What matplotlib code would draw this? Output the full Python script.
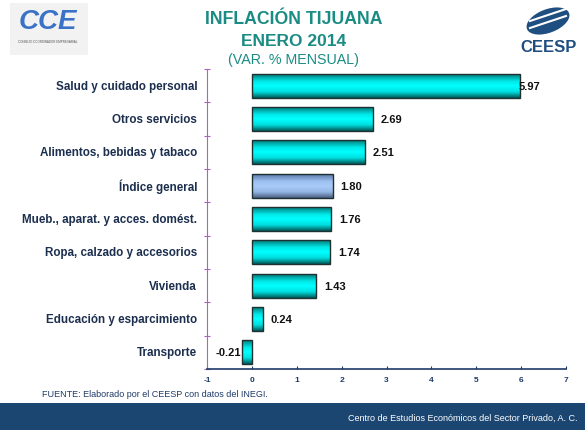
import matplotlib
matplotlib.use("Agg")
import numpy as np
import matplotlib.pyplot as plt
from matplotlib.patches import Rectangle, Ellipse
from matplotlib.colors import LinearSegmentedColormap

categories = ["Salud y cuidado personal", "Otros servicios", "Alimentos, bebidas y tabaco",
              "Índice general", "Mueb., aparat. y acces. domést.", "Ropa, calzado y accesorios",
              "Vivienda", "Educación y esparcimiento", "Transporte"]
values = [5.97, 2.69, 2.51, 1.80, 1.76, 1.74, 1.43, 0.24, -0.21]
value_labels = ["5.97", "2.69", "2.51", "1.80", "1.76", "1.74", "1.43", "0.24", "-0.21"]
xticks = [-1, 0, 1, 2, 3, 4, 5, 6, 7]

plt.rcParams['font.family'] = ['Liberation Sans', 'DejaVu Sans']

fig = plt.figure(figsize=(5.85, 4.31), dpi=100)
ax = fig.add_axes([207/585, 1-370/431, (566-207)/585, 300/431])

n = len(categories)
ys = list(range(n))
cyan_cmap = LinearSegmentedColormap.from_list("cy", [(0, "#007a7a"), (0.3, "#00e8e8"), (0.5, "#00ffff"),
                                                      (0.75, "#00dede"), (1, "#005858")])
blue_cmap = LinearSegmentedColormap.from_list("bl", [(0, "#5a78a8"), (0.3, "#9cc0f0"), (0.5, "#aacbfa"),
                                                      (0.75, "#94b6e6"), (1, "#4a5f80")])
bars = ax.barh(ys, values, height=0.72, color="none", edgecolor="#1e3030", linewidth=1.0, zorder=4)
grad = np.linspace(0, 1, 64).reshape(-1, 1)
for bar, c in zip(bars, categories):
    cmap = blue_cmap if c == "Índice general" else cyan_cmap
    x0, y0 = bar.get_x(), bar.get_y()
    w, h = bar.get_width(), bar.get_height()
    im = ax.imshow(grad, cmap=cmap, aspect="auto", extent=(x0, x0 + w, y0 + h, y0),
                   origin="upper", zorder=3, interpolation="bilinear")
    im.set_clip_path(bar)
ax.set_ylim(n - 0.5, -0.5)
ax.set_xlim(-1, 7)
ax.set_xticks(xticks)
ax.set_xticklabels([str(t) for t in xticks], fontsize=6, fontweight="bold", color="#1f3a68")
ax.set_yticks([i - 0.5 for i in range(n + 1)])
ax.set_yticklabels([])
for y, c in zip(ys, categories):
    ax.text(-1.22, y, c, ha="right", va="center", fontsize=8.4, fontweight="bold", color="#1c2f4f")
for y, v, lab in zip(ys, values, value_labels):
    if v >= 5:
        ax.text(v - 0.02, y, lab, ha="left", va="center", fontsize=8, fontweight="bold", color="#111111", zorder=5)
    elif v >= 0:
        ax.text(v + 0.18, y, lab, ha="left", va="center", fontsize=8, fontweight="bold", color="#111111", zorder=5)
    else:
        ax.text(v - 0.02, y, lab, ha="right", va="center", fontsize=8, fontweight="bold", color="#111111", zorder=5)
for s in ["top", "right"]:
    ax.spines[s].set_visible(False)
ax.spines["left"].set_color("#b060c0")
ax.spines["bottom"].set_color("#1f3a68")
ax.spines["bottom"].set_linewidth(1.2)
ax.tick_params(axis="y", length=5, color="#b060c0", direction="inout")
ax.tick_params(axis="x", length=2, color="#1f3a68", direction="in", pad=5)

tc = "#1a8c84"
fig.text(294/585, 1-19/431, "INFLACIÓN TIJUANA", ha="center", va="center", fontsize=12.7, fontweight="bold", color=tc)
fig.text(294/585, 1-41/431, "ENERO 2014", ha="center", va="center", fontsize=12.5, fontweight="bold", color=tc)
fig.text(294/585, 1-60/431, "(VAR. % MENSUAL)", ha="center", va="center", fontsize=10.3, color=tc)

# CEESP logo
fig.text(549/585, 1-47/431, "CEESP", ha="center", va="center", fontsize=12, fontweight="bold", color="#1f4e80")
fig.patches.append(Ellipse((548/585, 1-22/431), 48/585, 22/431, angle=35, transform=fig.transFigure,
                           facecolor="#1f4e80", edgecolor="none"))
for dy in (-4, 3):
    fig.lines.append(plt.Line2D([530/585, 566/585], [1-(26+dy)/431, 1-(14+dy)/431], transform=fig.transFigure,
                                color="white", linewidth=1.5))
# CCE logo
fig.patches.append(Rectangle((10/585, 1-56/431), 78/585, 52/431, transform=fig.transFigure,
                             facecolor="#f2f2f2", edgecolor="none"))
fig.text(48/585, 1-22/431, "CCE", ha="center", va="center", fontsize=20, fontweight="bold", color="#3a72c8", style="italic")
fig.text(48/585, 1-42/431, "CONSEJO COORDINADOR EMPRESARIAL", ha="center", va="center", fontsize=2.2, color="#555555")

fig.text(42/585, 1-395/431, "FUENTE: Elaborado por el CEESP con datos del INEGI.", ha="left", va="center", fontsize=6.5, color="#1f3a68")

fig.patches.append(Rectangle((0, 0), 1, 27/431, transform=fig.transFigure, facecolor="#1b4672", edgecolor="none"))
fig.text(578/585, 1-418/431, "Centro de Estudios Económicos del Sector Privado, A. C.", ha="right", va="center", fontsize=6.5, color="white")

fig.savefig("out.png", dpi=100)
